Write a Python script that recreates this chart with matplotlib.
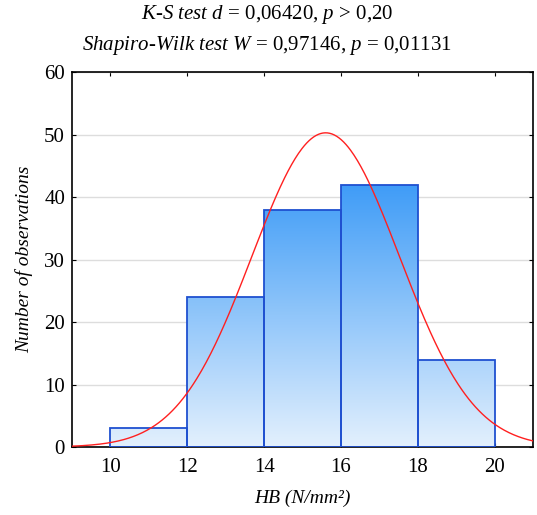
import matplotlib.pyplot as plt
import numpy as np
from matplotlib.colors import LinearSegmentedColormap

# histogram of HB values
bin_edges = [10, 12, 14, 16, 18, 20]
counts = [3, 24, 38, 42, 14]

# fitted normal curve parameters
fit_mean = 15.6
fit_sd = 1.92
n_obs = sum(counts)

title_lines = [r"$K$-$S$ $test$ $d$ = 0,06420, $p$ > 0,20",
               r"$Shapiro$-$Wilk$ $test$ $W$ = 0,97146, $p$ = 0,01131"]

plt.rcParams['font.family'] = 'Liberation Serif'
plt.rcParams['mathtext.fontset'] = 'custom'
plt.rcParams['mathtext.rm'] = 'Liberation Serif'
plt.rcParams['mathtext.it'] = 'Liberation Serif:italic'

fig = plt.figure(figsize=(5.37, 5.15), dpi=100)
ax = fig.add_axes([0.134, 0.132, 0.859, 0.728])

ax.set_yticks(range(0, 61, 10))
ax.set_xticks(range(10, 21, 2))
ax.grid(axis='y', color='#dddddd', lw=1)
ax.set_axisbelow(True)

# bars with vertical gradient fill
widths = np.diff(bin_edges)
bars = ax.bar(bin_edges[:-1], counts, width=widths, align='edge',
              facecolor='none', edgecolor='#1f50d0', lw=1.3, zorder=3)
grad = np.linspace(0, 1, 256).reshape(-1, 1)
cmap = LinearSegmentedColormap.from_list('g', ['#e3f0fd', '#3f9cf7'])
for b in bars:
    im = ax.imshow(grad, cmap=cmap, origin='lower', aspect='auto',
                   extent=(9, 21, 0, max(counts)), zorder=2)
    im.set_clip_path(b)
ax.set_xlim(9, 21)
ax.set_ylim(0, 60)

# normal curve
xs = np.linspace(9, 21, 400)
ys = n_obs * 2 / (fit_sd * np.sqrt(2 * np.pi)) * np.exp(-0.5 * ((xs - fit_mean) / fit_sd) ** 2)
ax.plot(xs, ys, color='#ff2020', lw=1, zorder=4)

ax.tick_params(direction='in', length=3, labelsize=15, pad=5,
               top=True, right=True)
ax.tick_params(axis='x', pad=8)
for s in ax.spines.values():
    s.set_linewidth(1.2)

ax.set_xlabel('HB (N/mm²)', fontsize=14, fontstyle='italic', labelpad=9)
ax.set_ylabel('Number of observations', fontsize=14, fontstyle='italic', labelpad=8)

fig.text(0.497, 0.972, title_lines[0], ha='center', va='center', fontsize=15)
fig.text(0.497, 0.912, title_lines[1], ha='center', va='center', fontsize=15)

fig.savefig('out.png', dpi=100)
